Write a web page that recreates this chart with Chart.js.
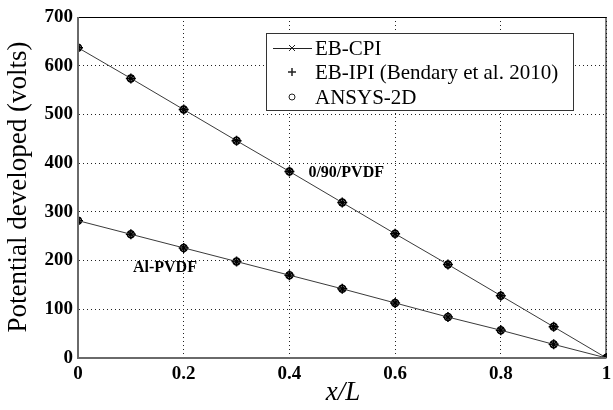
<!DOCTYPE html>
<html>
<head>
<meta charset="utf-8">
<script src="https://cdn.jsdelivr.net/npm/chart.js@4/dist/chart.umd.min.js"></script>
<style>
  html, body { margin: 0; padding: 0; background: #fff; }
  #wrap { width: 613px; height: 410px; }
</style>
</head>
<body>
<div id="wrap"><canvas id="potChart" width="613" height="410"></canvas></div>
<script>
const xs = [0, 0.1, 0.2, 0.3, 0.4, 0.5, 0.6, 0.7, 0.8, 0.9, 1];
const crossPly = [637, 574, 510, 446, 383, 319, 255, 192, 128, 64, 0];
const alPvdf = [282, 254, 226, 198, 170, 142, 113, 84, 57, 28, 0];
const legendNames = ['EB-CPI', 'EB-IPI (Bendary et al. 2010)', 'ANSYS-2D'];

const serif = '"Liberation Serif", "DejaVu Serif", serif';

function pts(vals) {
    return xs.map((x, i) => ({ x: x, y: vals[i] }));
}

const overlay = {
    id: 'overlay',
    afterDraw(chart) {
        const ctx = chart.ctx;
        const a = chart.chartArea;
        const sx = chart.scales.x, sy = chart.scales.y;
        ctx.save();
        // frame: top/right thin black, left/bottom gray axes
        ctx.strokeStyle = '#000';
        ctx.lineWidth = 1;
        ctx.beginPath();
        ctx.moveTo(a.left, a.top + 0.5);
        ctx.lineTo(a.right - 0.5, a.top + 0.5);
        ctx.lineTo(a.right - 0.5, a.bottom);
        ctx.stroke();
        ctx.strokeStyle = '#6a6a6a';
        ctx.lineWidth = 2;
        ctx.beginPath();
        ctx.moveTo(a.left, a.top);
        ctx.lineTo(a.left, a.bottom);
        ctx.lineTo(a.right, a.bottom);
        ctx.stroke();

        // annotations
        ctx.fillStyle = '#000';
        ctx.font = 'bold 16px ' + serif;
        ctx.textBaseline = 'middle';
        ctx.textAlign = 'left';
        ctx.fillText('0/90/PVDF', sx.getPixelForValue(0.436), sy.getPixelForValue(380));
        ctx.fillText('Al-PVDF', sx.getPixelForValue(0.104), sy.getPixelForValue(185));

        // axis titles
        ctx.font = '27px ' + serif;
        ctx.textAlign = 'center';
        ctx.save();
        ctx.translate(19, 187);
        ctx.rotate(-Math.PI / 2);
        ctx.fillText('Potential developed (volts)', 0, 0);
        ctx.restore();
        ctx.font = 'italic 27px ' + serif;
        ctx.fillText('x/L', 343, 393);

        // legend box
        const lx = 266, ly = 33, lw = 307, lh = 77;
        ctx.fillStyle = '#fff';
        ctx.fillRect(lx, ly, lw, lh);
        ctx.strokeStyle = '#333';
        ctx.lineWidth = 1;
        ctx.strokeRect(lx + 0.5, ly + 0.5, lw, lh);
        const rows = [48, 72, 97];
        ctx.strokeStyle = '#222';
        // row 1: line with x
        ctx.beginPath();
        ctx.moveTo(273, rows[0] + 0.5);
        ctx.lineTo(312, rows[0] + 0.5);
        ctx.stroke();
        ctx.beginPath();
        ctx.moveTo(289, rows[0] - 3); ctx.lineTo(295, rows[0] + 3);
        ctx.moveTo(295, rows[0] - 3); ctx.lineTo(289, rows[0] + 3);
        ctx.stroke();
        // row 2: plus
        ctx.lineWidth = 1.5;
        ctx.beginPath();
        ctx.moveTo(288, rows[1]); ctx.lineTo(296, rows[1]);
        ctx.moveTo(292, rows[1] - 4); ctx.lineTo(292, rows[1] + 4);
        ctx.stroke();
        // row 3: circle
        ctx.lineWidth = 1;
        ctx.beginPath();
        ctx.arc(292, rows[2], 3, 0, Math.PI * 2);
        ctx.stroke();
        ctx.fillStyle = '#000';
        ctx.font = '21px ' + serif;
        ctx.textAlign = 'left';
        legendNames.forEach((t, i) => ctx.fillText(t, 315, rows[i] + 1));
        ctx.restore();
    }
};

const lineCol = '#3a3a3a';
const datasets = [];
[crossPly, alPvdf].forEach(vals => {
    datasets.push({
        label: legendNames[0], data: pts(vals), showLine: true,
        borderColor: lineCol, borderWidth: 1, pointStyle: 'crossRot',
        pointRadius: 4, pointBorderColor: '#000', pointBorderWidth: 1.5
    });
    datasets.push({
        label: legendNames[1], data: pts(vals), showLine: false,
        pointStyle: 'cross', pointRadius: 5, pointBorderColor: '#000', pointBorderWidth: 1.5
    });
    datasets.push({
        label: legendNames[2], data: pts(vals), showLine: false,
        pointStyle: 'circle', pointRadius: 3.5, pointBorderColor: '#000',
        pointBackgroundColor: 'rgba(0,0,0,0)', pointBorderWidth: 1.5
    });
});

new Chart(document.getElementById('potChart'), {
    type: 'scatter',
    data: { datasets: datasets },
    options: {
        responsive: false,
        animation: false,
        events: [],
        layout: { padding: { top: 17, right: 3, left: 0, bottom: 0 } },
        plugins: { legend: { display: false }, tooltip: { enabled: false } },
        scales: {
            x: {
                type: 'linear', min: 0, max: 1,
                afterFit(s) { s.height = 52; s.paddingLeft = 0; s.paddingRight = 0; },
                ticks: {
                    stepSize: 0.2, color: '#000', padding: 5,
                    font: { family: serif, size: 19, weight: 'bold' },
                    callback: v => Number(v.toFixed(1)).toString()
                },
                grid: { color: '#222', lineWidth: 1, drawTicks: false },
                border: { display: true, color: 'rgba(0,0,0,0)', dash: [1, 3] }
            },
            y: {
                min: 0, max: 700,
                afterFit(s) { s.width = 78; },
                ticks: {
                    stepSize: 100, color: '#000', padding: 5,
                    font: { family: serif, size: 19, weight: 'bold' }
                },
                grid: { color: '#222', lineWidth: 1, drawTicks: false },
                border: { display: true, color: 'rgba(0,0,0,0)', dash: [1, 3] }
            }
        }
    },
    plugins: [overlay]
});
</script>
</body>
</html>
